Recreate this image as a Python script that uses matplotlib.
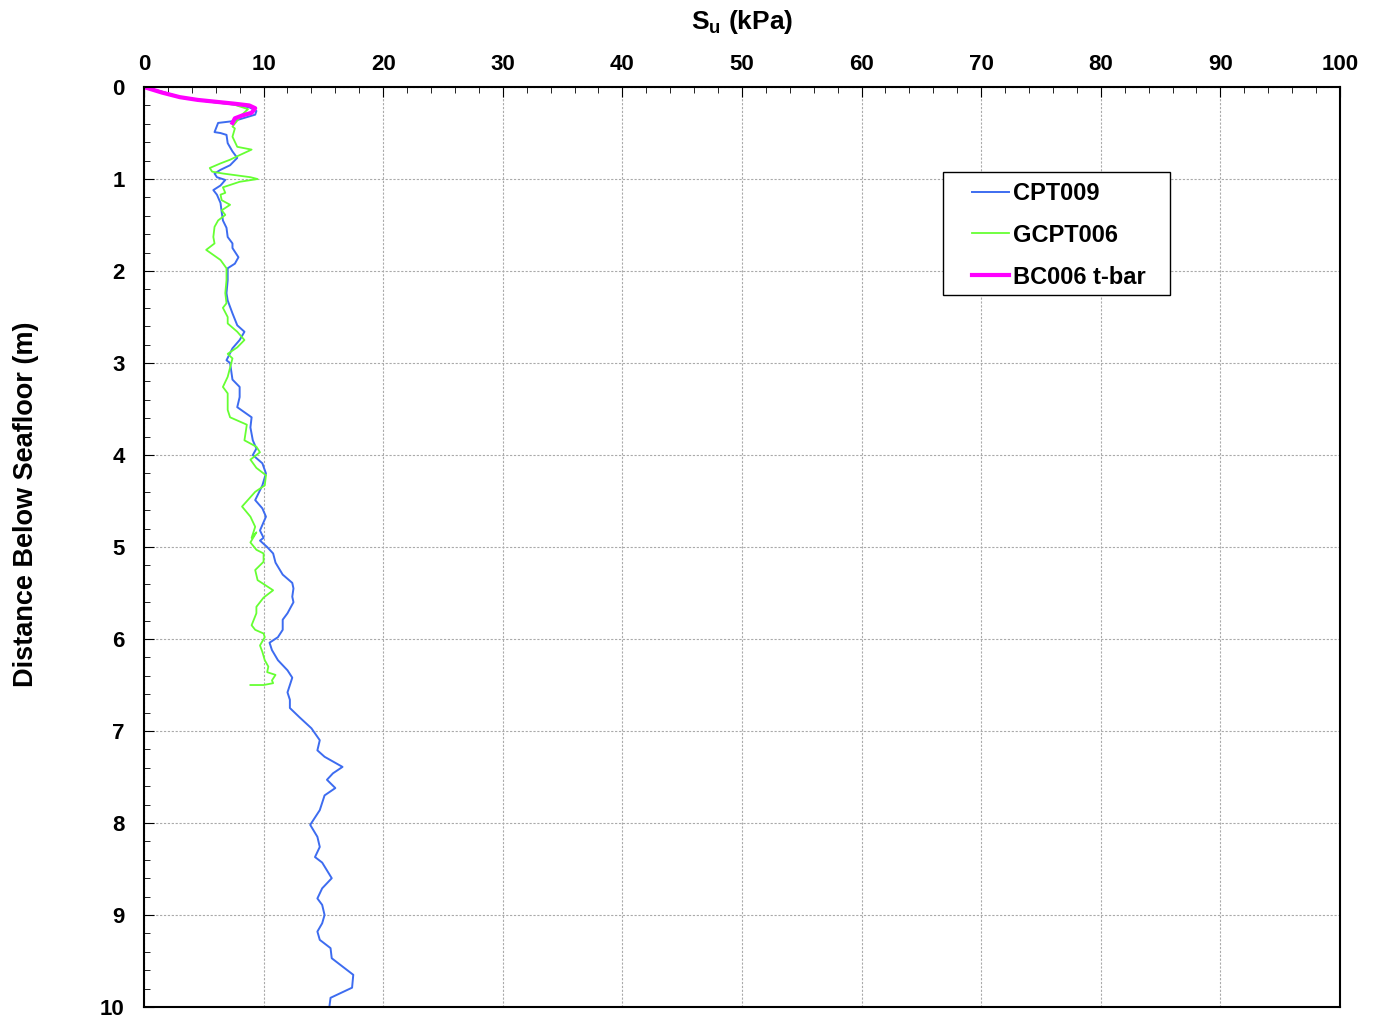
import matplotlib
matplotlib.use("Agg")
import matplotlib.pyplot as plt
from matplotlib.ticker import MultipleLocator
from matplotlib.patches import Rectangle

plt.rcParams['font.family'] = ['Liberation Sans', 'DejaVu Sans']
plt.rcParams['font.weight'] = 'bold'

# CPT009 : Su (kPa) vs depth (m)
cpt009_su = [0.0, 1.5, 3.3, 5.5, 7.5, 8.8, 9.4, 9.3, 7.5, 6.2, 5.9, 6.4, 6.9, 7.0, 7.4, 7.8, 7.2,
             6.4, 5.9, 6.1, 6.8, 6.4, 5.8, 6.1, 6.4, 6.5, 6.6, 6.9, 7.0, 7.4, 7.4, 7.9, 7.6,
             7.0, 7.0, 6.9, 7.0, 7.4, 7.8, 8.4, 8.0, 7.4, 6.9, 7.2, 7.4, 8.0, 8.0, 7.8, 9.0,
             8.9, 9.1, 9.4, 9.1, 9.9, 10.2, 9.9, 9.3, 9.9, 10.2, 9.7, 10.0, 9.7, 10.3, 10.8,
             11.0, 11.6, 12.4, 12.5, 12.4, 12.5, 12.0, 11.6, 11.6, 11.2, 10.5, 10.7, 11.2,
             12.0, 12.4, 12.0, 12.2, 12.2, 13.0, 14.0, 14.7, 14.5, 15.1, 16.6, 15.8, 15.3,
             16.0, 15.1, 14.7, 13.9, 14.5, 14.7, 14.3, 14.9, 15.7, 14.9, 14.5, 14.9, 15.1,
             14.9, 14.5, 14.7, 15.6, 15.7, 17.5, 17.4, 15.6, 15.5]
cpt009_z = [0.0, 0.05, 0.12, 0.16, 0.19, 0.22, 0.26, 0.30, 0.37, 0.39, 0.49, 0.50, 0.52, 0.61,
            0.70, 0.77, 0.85, 0.90, 0.94, 0.98, 1.01, 1.07, 1.12, 1.17, 1.26, 1.36, 1.45, 1.53,
            1.63, 1.70, 1.75, 1.85, 1.92, 1.97, 2.10, 2.24, 2.32, 2.46, 2.59, 2.66, 2.75, 2.84,
            2.97, 3.00, 3.18, 3.26, 3.37, 3.48, 3.59, 3.70, 3.84, 3.93, 4.00, 4.09, 4.20, 4.33,
            4.49, 4.58, 4.67, 4.82, 4.90, 4.93, 5.00, 5.07, 5.17, 5.30, 5.39, 5.45, 5.54, 5.60,
            5.72, 5.79, 5.90, 5.98, 6.04, 6.12, 6.23, 6.34, 6.42, 6.58, 6.66, 6.75, 6.85, 6.97,
            7.10, 7.21, 7.28, 7.39, 7.46, 7.53, 7.62, 7.70, 7.86, 8.02, 8.15, 8.26, 8.37, 8.43,
            8.60, 8.71, 8.82, 8.89, 9.00, 9.09, 9.18, 9.27, 9.36, 9.47, 9.65, 9.79, 9.90, 10.0]

# GCPT006
gcpt006_su = [0.0, 1.5, 3.3, 5.5, 7.5, 8.7, 8.2, 7.4, 7.6, 7.4, 7.8, 9.0, 8.0, 7.2, 6.4, 5.5,
              5.7, 6.6, 8.9, 9.5, 8.0, 6.6, 6.8, 6.4, 6.5, 7.2, 6.5, 6.8, 6.2, 5.9, 5.8, 5.9,
              5.2, 6.4, 6.9, 6.9, 6.8, 6.9, 6.6, 7.0, 7.0, 7.8, 8.4, 7.8, 7.0, 7.4, 7.0, 6.6,
              7.0, 7.0, 7.2, 8.6, 8.4, 9.4, 9.7, 8.9, 9.4, 10.2, 10.1, 9.3, 8.2, 8.9, 9.3, 9.0,
              9.4, 8.9, 9.4, 10.0, 10.0, 9.3, 9.5, 10.8, 10.0, 9.4, 9.4, 9.0, 9.3, 10.0, 10.1,
              9.7, 9.9, 10.1, 10.4, 10.3, 11.0, 10.7, 10.8, 10.0, 8.9]
gcpt006_z = [0.0, 0.05, 0.12, 0.16, 0.19, 0.24, 0.30, 0.43, 0.45, 0.54, 0.65, 0.68, 0.74, 0.79,
             0.83, 0.88, 0.92, 0.94, 0.98, 1.00, 1.03, 1.09, 1.15, 1.17, 1.23, 1.28, 1.34, 1.39,
             1.45, 1.52, 1.63, 1.70, 1.77, 1.88, 1.97, 2.10, 2.24, 2.35, 2.40, 2.50, 2.57, 2.66,
             2.75, 2.83, 2.90, 2.95, 3.15, 3.26, 3.33, 3.51, 3.59, 3.67, 3.84, 3.91, 3.97, 4.05,
             4.14, 4.22, 4.33, 4.40, 4.56, 4.67, 4.78, 4.90, 4.84, 4.95, 5.03, 5.07, 5.16, 5.25,
             5.36, 5.47, 5.55, 5.65, 5.72, 5.85, 5.90, 5.94, 5.98, 6.07, 6.14, 6.23, 6.30, 6.36,
             6.39, 6.45, 6.48, 6.50, 6.50]

# BC006 t-bar
bc006_su = [0.0, 0.5, 1.5, 3.0, 4.5, 6.0, 7.5, 8.8, 9.3, 9.0, 8.2, 7.6, 7.4]
bc006_z = [0.0, 0.02, 0.06, 0.11, 0.14, 0.16, 0.18, 0.20, 0.23, 0.28, 0.31, 0.34, 0.39]

fig = plt.figure(figsize=(13.79, 10.18), dpi=100)
ax = fig.add_axes([0.1044, 0.0108, 0.8673, 0.9037])

ax.plot(cpt009_su, cpt009_z, color='#3d6cf0', lw=1.4, label='CPT009')
ax.plot(gcpt006_su, gcpt006_z, color='#66ff33', lw=1.3, label='GCPT006')
ax.plot(bc006_su, bc006_z, color='#ff00ff', lw=3.0, label='BC006 t-bar')

ax.set_xlim(0, 100)
ax.set_ylim(10, 0)
ax.xaxis.set_major_locator(MultipleLocator(10))
ax.xaxis.set_minor_locator(MultipleLocator(2))
ax.yaxis.set_major_locator(MultipleLocator(1))
ax.yaxis.set_minor_locator(MultipleLocator(0.2))
ax.xaxis.tick_top()
ax.xaxis.set_label_position('top')
ax.tick_params(axis='both', which='both', direction='in', labelsize=16)
ax.tick_params(axis='x', which='major', length=7, pad=9)
ax.tick_params(axis='x', which='minor', length=4)
ax.tick_params(axis='y', which='major', length=7, pad=14)
ax.tick_params(axis='y', which='minor', length=4)
ax.tick_params(axis='x', which='both', top=True, bottom=False)
ax.tick_params(axis='y', which='both', left=True, right=False)
for s in ax.spines.values():
    s.set_linewidth(1.5)

ax.grid(True, which='major', color='#aaaaaa', linestyle='--', linewidth=0.8, dashes=(2, 1.5))
ax.set_axisbelow(True)

ax.set_xlabel('S$_\\mathregular{u}$ (kPa)', fontsize=19, fontweight='bold', labelpad=18)
ax.set_ylabel('Distance Below Seafloor (m)', fontsize=19.5, fontweight='bold')
ax.yaxis.set_label_coords(-0.088, 0.547)

# legend: frame drawn separately to get the wider side padding
leg = ax.legend(loc='upper left', bbox_to_anchor=(0.6923, 0.897), fontsize=17,
                frameon=False, handlelength=1.55, handletextpad=0.2,
                borderpad=0, labelspacing=0.8, borderaxespad=0)
ax.add_patch(Rectangle((0.668, 0.774), 0.19, 0.1336, transform=ax.transAxes,
                       facecolor='white', edgecolor='black', lw=1.0, zorder=4))
leg.set_zorder(5)

fig.savefig('out.png', dpi=100)
